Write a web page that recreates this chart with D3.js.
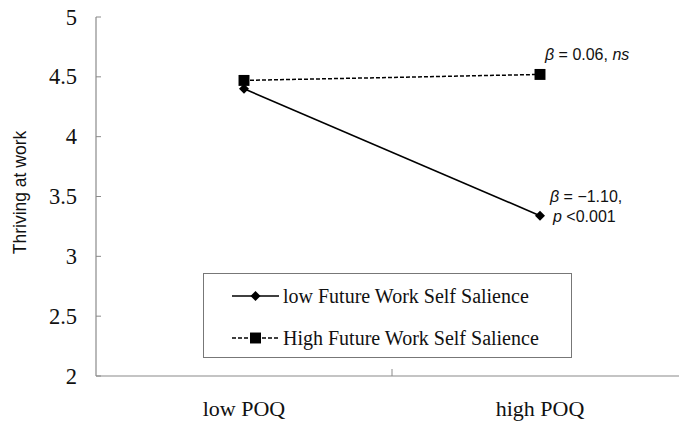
<!DOCTYPE html>
<html>
<head>
<meta charset="utf-8">
<script src="https://cdn.jsdelivr.net/npm/d3@7/dist/d3.min.js"></script>
<style>
  html, body { margin: 0; padding: 0; background: #fff; }
  svg { display: block; }
</style>
</head>
<body>
<svg id="chart" width="679" height="422"></svg>
<script>
// Categories on the x axis
const categories = ["low POQ", "high POQ"];
// Simple-slope values for each moderator level
const lowFWSS = [4.40, 3.34];
const highFWSS = [4.47, 4.52];
// Y tick labels
const yTicks = [2, 2.5, 3, 3.5, 4, 4.5, 5];
const seriesNames = ["low Future Work Self Salience", "High Future Work Self Salience"];

(function draw() {
  const svg = d3.select("#chart");
  const serif = "'Liberation Serif', 'Times New Roman', serif";
  const sans = "'Liberation Sans', Arial, sans-serif";
  const axisGray = "#8a8a8a";

  const plotLeft = 96, plotBottom = 376, plotTop = 17;

  const y = d3.scaleLinear().domain([2, 5]).range([plotBottom, plotTop]);
  const x = d3.scaleBand().domain(categories).range([plotLeft, 688]);
  const cx = d => x(d) + x.bandwidth() / 2;

  // Y axis
  svg.append("line")
    .attr("x1", plotLeft).attr("x2", plotLeft).attr("y1", y(5)).attr("y2", y(2))
    .attr("stroke", axisGray).attr("stroke-width", 1.2);
  svg.selectAll(".ytick").data(yTicks).enter().append("line")
    .attr("x1", plotLeft).attr("x2", plotLeft + 5)
    .attr("y1", d => y(d)).attr("y2", d => y(d))
    .attr("stroke", axisGray).attr("stroke-width", 1);
  svg.selectAll(".ylab").data(yTicks).enter().append("text")
    .attr("x", 77).attr("y", d => y(d) + 7.5)
    .attr("text-anchor", "end")
    .attr("font-family", serif).attr("font-size", 22.5)
    .attr("fill", "#111")
    .text(d => d);

  // X axis
  svg.append("line")
    .attr("x1", plotLeft).attr("x2", 688).attr("y1", plotBottom).attr("y2", plotBottom)
    .attr("stroke", axisGray).attr("stroke-width", 1.2);
  svg.append("line")
    .attr("x1", x(categories[1])).attr("x2", x(categories[1]))
    .attr("y1", plotBottom).attr("y2", plotBottom - 7)
    .attr("stroke", axisGray).attr("stroke-width", 1);
  svg.selectAll(".xlab").data(categories).enter().append("text")
    .attr("x", d => cx(d))
    .attr("y", 416)
    .attr("text-anchor", "middle")
    .attr("font-family", serif).attr("font-size", 22)
    .attr("fill", "#111")
    .text(d => d);

  // Y axis title
  svg.append("text")
    .attr("transform", `translate(26,${(y(5) + y(2)) / 2 - 4}) rotate(-90)`)
    .attr("text-anchor", "middle")
    .attr("font-family", sans).attr("font-size", 17.5)
    .attr("fill", "#111")
    .text("Thriving at work");

  const line = d3.line().x(d => cx(d.c)).y(d => y(d.v));
  const toPts = vals => categories.map((c, i) => ({ c, v: vals[i] }));

  const diamond = d3.symbol().type(d3.symbolDiamond2).size(64);
  const square = d3.symbol().type(d3.symbolSquare).size(120);

  // Low FWSS: solid line with diamonds
  svg.append("path").datum(toPts(lowFWSS))
    .attr("d", line).attr("fill", "none")
    .attr("stroke", "#000").attr("stroke-width", 1.6);
  svg.selectAll(".dia").data(toPts(lowFWSS)).enter().append("path")
    .attr("d", diamond)
    .attr("transform", d => `translate(${cx(d.c)},${y(d.v)})`)
    .attr("fill", "#000");

  // High FWSS: dashed line with squares
  svg.append("path").datum(toPts(highFWSS))
    .attr("d", line).attr("fill", "none")
    .attr("stroke", "#000").attr("stroke-width", 1.5)
    .attr("stroke-dasharray", "4,2");
  svg.selectAll(".sq").data(toPts(highFWSS)).enter().append("path")
    .attr("d", square)
    .attr("transform", d => `translate(${cx(d.c)},${y(d.v)})`)
    .attr("fill", "#000");

  // Slope annotations
  const hiEnd = { c: categories[1], v: highFWSS[1] };
  const loEnd = { c: categories[1], v: lowFWSS[1] };
  const ann1 = svg.append("text")
    .attr("x", cx(hiEnd.c) + 5).attr("y", y(hiEnd.v) - 14)
    .attr("font-family", sans).attr("font-size", 16).attr("fill", "#111");
  ann1.append("tspan").attr("font-style", "italic").text("β");
  ann1.append("tspan").text(" = 0.06, ");
  ann1.append("tspan").attr("font-style", "italic").text("ns");

  const ann2 = svg.append("text")
    .attr("x", cx(loEnd.c) + 10).attr("y", y(loEnd.v) - 14)
    .attr("font-family", sans).attr("font-size", 16).attr("fill", "#111");
  ann2.append("tspan").attr("font-style", "italic").text("β");
  ann2.append("tspan").text(" = −1.10,");
  const ann3 = svg.append("text")
    .attr("x", cx(loEnd.c) + 13).attr("y", y(loEnd.v) + 6)
    .attr("font-family", sans).attr("font-size", 16).attr("fill", "#111");
  ann3.append("tspan").attr("font-style", "italic").text("p");
  ann3.append("tspan").text(" <0.001");

  // Legend
  const lg = svg.append("g");
  lg.append("rect")
    .attr("x", 203.5).attr("y", 273.5).attr("width", 368).attr("height", 84)
    .attr("fill", "#fff").attr("stroke", "#777").attr("stroke-width", 1);
  const rows = [
    { name: seriesNames[0], dash: null, sym: diamond, ly: 296 },
    { name: seriesNames[1], dash: "4,2", sym: square, ly: 338 }
  ];
  rows.forEach(r => {
    lg.append("line")
      .attr("x1", 232).attr("x2", 279).attr("y1", r.ly).attr("y2", r.ly)
      .attr("stroke", "#000").attr("stroke-width", 1.5)
      .attr("stroke-dasharray", r.dash);
    lg.append("path").attr("d", r.sym)
      .attr("transform", `translate(255.5,${r.ly})`).attr("fill", "#000");
    lg.append("text")
      .attr("x", 283).attr("y", r.ly + 6.5)
      .attr("font-family", serif).attr("font-size", 20).attr("fill", "#111")
      .text(r.name);
  });
})();
</script>
</body>
</html>
